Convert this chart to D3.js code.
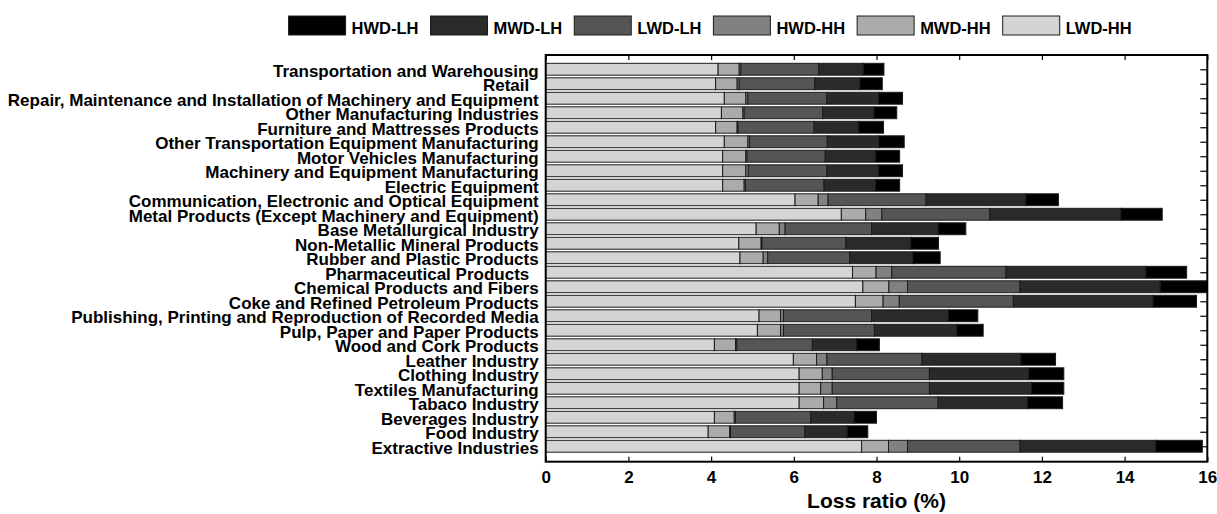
<!DOCTYPE html>
<html>
<head>
<meta charset="utf-8">
<script src="https://cdn.jsdelivr.net/npm/d3@7"></script>
<style>
  body { margin: 0; background: #fff; }
  text { font-family: "Liberation Sans", Arial, sans-serif; font-weight: bold; fill: #000; }
</style>
</head>
<body>
<svg id="chart" width="1217" height="514"></svg>
<script>
// Industries, listed top to bottom
const categories = [
  "Transportation and Warehousing",
  "Retail\u00a0\u00a0",
  "Repair, Maintenance and Installation of Machinery and Equipment",
  "Other Manufacturing Industries",
  "Furniture and Mattresses Products",
  "Other Transportation Equipment Manufacturing",
  "Motor Vehicles Manufacturing",
  "Machinery and Equipment Manufacturing",
  "Electric Equipment",
  "Communication, Electronic and Optical Equipment",
  "Metal Products (Except Machinery and Equipment)",
  "Base Metallurgical Industry",
  "Non-Metallic Mineral Products",
  "Rubber and Plastic Products",
  "Pharmaceutical Products\u00a0\u00a0",
  "Chemical Products and Fibers",
  "Coke and Refined Petroleum Products",
  "Publishing, Printing and Reproduction of Recorded Media",
  "Pulp, Paper and Paper Products",
  "Wood and Cork Products",
  "Leather Industry",
  "Clothing Industry",
  "Textiles Manufacturing",
  "Tabaco Industry",
  "Beverages Industry",
  "Food Industry",
  "Extractive Industries"
];

// Loss ratio contributions (%), one value per industry, stacked left to right
const lwdHH = [4.17, 4.11, 4.32, 4.25, 4.11, 4.32, 4.28, 4.28, 4.28, 6.03, 7.15, 5.09, 4.67, 4.70, 7.42, 7.67, 7.49, 5.16, 5.12, 4.08, 5.99, 6.13, 6.13, 6.13, 4.08, 3.93, 7.64];
const mwdHH = [0.51, 0.52, 0.52, 0.52, 0.52, 0.57, 0.56, 0.56, 0.52, 0.56, 0.59, 0.56, 0.54, 0.56, 0.57, 0.63, 0.67, 0.52, 0.56, 0.51, 0.56, 0.56, 0.52, 0.59, 0.48, 0.52, 0.65];
const hwdHH = [0.04, 0.05, 0.05, 0.03, 0.02, 0.04, 0.03, 0.06, 0.03, 0.24, 0.39, 0.14, 0.02, 0.11, 0.38, 0.45, 0.39, 0.07, 0.07, 0.03, 0.25, 0.24, 0.28, 0.32, 0.03, 0.02, 0.46];
const lwdLH = [1.88, 1.83, 1.91, 1.90, 1.84, 1.88, 1.89, 1.90, 1.90, 2.37, 2.61, 2.09, 2.03, 1.98, 2.76, 2.72, 2.76, 2.13, 2.20, 1.83, 2.30, 2.35, 2.35, 2.45, 1.82, 1.80, 2.72];
const mwdLH = [1.08, 1.09, 1.25, 1.24, 1.08, 1.25, 1.22, 1.25, 1.25, 2.41, 3.17, 1.61, 1.57, 1.53, 3.38, 3.39, 3.38, 1.86, 1.99, 1.07, 2.39, 2.40, 2.47, 2.16, 1.05, 1.02, 3.28];
const hwdLH = [0.50, 0.54, 0.58, 0.55, 0.60, 0.61, 0.58, 0.58, 0.58, 0.79, 1.00, 0.67, 0.67, 0.66, 0.99, 1.14, 1.05, 0.71, 0.64, 0.55, 0.84, 0.85, 0.78, 0.85, 0.54, 0.50, 1.13];

const seriesNames = ["LWD-HH", "MWD-HH", "HWD-HH", "LWD-LH", "MWD-LH", "HWD-LH"];
const seriesValues = [lwdHH, mwdHH, hwdHH, lwdLH, mwdLH, hwdLH];
const legendOrder = ["HWD-LH", "MWD-LH", "LWD-LH", "HWD-HH", "MWD-HH", "LWD-HH"];
const xTicks = [0, 2, 4, 6, 8, 10, 12, 14, 16];
const xTitle = "Loss ratio (%)";

const fills = {
  "LWD-HH": "#d4d4d4",
  "MWD-HH": "#ababab",
  "HWD-HH": "#818181",
  "LWD-LH": "#555555",
  "MWD-LH": "#2a2a2a",
  "HWD-LH": "#000000"
};

const svg = d3.select("#chart");
const plot = { left: 545.7, right: 1207.3, top: 55, bottom: 461.7 };

const rows = categories.map((c, i) => {
  const r = { category: c };
  seriesNames.forEach((s, k) => { r[s] = seriesValues[k][i]; });
  return r;
});

const stacked = d3.stack().keys(seriesNames)(rows);

const x = d3.scaleLinear().domain([0, 16]).range([plot.left, plot.right]);
const y = d3.scaleBand()
  .domain(categories)
  .range([62, 453.5])
  .paddingInner(0.18)
  .paddingOuter(0.09);

svg.append("defs").append("clipPath").attr("id", "plotClip")
  .append("rect")
  .attr("x", plot.left).attr("y", plot.top)
  .attr("width", plot.right - plot.left).attr("height", plot.bottom - plot.top);

// Stacked bars
const barLayer = svg.append("g").attr("clip-path", "url(#plotClip)");
barLayer.selectAll("g.series")
  .data(stacked)
  .join("g")
  .attr("class", "series")
  .attr("fill", d => fills[d.key])
  .selectAll("rect")
  .data(d => d)
  .join("rect")
  .attr("x", d => x(d[0]))
  .attr("y", d => y(d.data.category))
  .attr("width", d => Math.max(0, x(d[1]) - x(d[0])))
  .attr("height", y.bandwidth())
  .attr("stroke", "#1c1c1c")
  .attr("stroke-width", 1);

// Bottom axis
const xAxisBottom = d3.axisBottom(x).tickValues(xTicks).tickSize(-5).tickPadding(9).tickFormat(d3.format("d"));
const gb = svg.append("g").attr("transform", `translate(0,${plot.bottom})`).call(xAxisBottom);
gb.select(".domain").remove();
gb.selectAll(".tick line").attr("stroke", "#000").attr("stroke-width", 1.2);
gb.selectAll(".tick text").style("font-size", "17px").style("font-family", "'Liberation Sans', Arial, sans-serif").style("font-weight", "bold");

// Top axis (ticks only)
const xAxisTop = d3.axisTop(x).tickValues(xTicks).tickSize(-5).tickFormat("");
const gt = svg.append("g").attr("transform", `translate(0,${plot.top})`).call(xAxisTop);
gt.select(".domain").remove();
gt.selectAll(".tick line").attr("stroke", "#000").attr("stroke-width", 1.2);

// Right axis (ticks at each category)
const yPoint = d3.scalePoint().domain(categories).range([y(categories[0]) + y.bandwidth() / 2, y(categories[categories.length - 1]) + y.bandwidth() / 2]);
const yAxisRight = d3.axisRight(yPoint).tickSize(-7).tickFormat("");
const gr = svg.append("g").attr("transform", `translate(${plot.right},0)`).call(yAxisRight);
gr.select(".domain").remove();
gr.selectAll(".tick line").attr("stroke", "#000").attr("stroke-width", 1.2);

// Category labels
const yAxisLeft = d3.axisLeft(yPoint).tickSize(0).tickPadding(7);
const gl = svg.append("g").attr("transform", `translate(${plot.left},0)`).call(yAxisLeft);
gl.select(".domain").remove();
gl.selectAll(".tick text")
  .style("font-size", "17px")
  .style("font-family", "'Liberation Sans', Arial, sans-serif")
  .style("font-weight", "bold")
  .style("white-space", "pre")
  .attr("dy", "0.4em");

// Plot frame
svg.append("rect")
  .attr("x", plot.left).attr("y", plot.top)
  .attr("width", plot.right - plot.left).attr("height", plot.bottom - plot.top)
  .attr("fill", "none").attr("stroke", "#000").attr("stroke-width", 2);

// Axis title
svg.append("text")
  .attr("x", (plot.left + plot.right) / 2)
  .attr("y", 508)
  .attr("text-anchor", "middle")
  .style("font-size", "21px")
  .text(xTitle);

// Legend
const legend = svg.append("g").attr("class", "legend");
let lx = 288.6;
legendOrder.forEach(key => {
  const item = legend.append("g");
  item.append("rect")
    .attr("x", lx).attr("y", 16)
    .attr("width", 57).attr("height", 19)
    .attr("fill", fills[key])
    .attr("stroke", "#1c1c1c").attr("stroke-width", 1);
  const t = item.append("text")
    .attr("x", lx + 63).attr("y", 34)
    .style("font-size", "16.5px")
    .text(key);
  lx += 63 + t.node().getComputedTextLength() + 12;
});
</script>
</body>
</html>
